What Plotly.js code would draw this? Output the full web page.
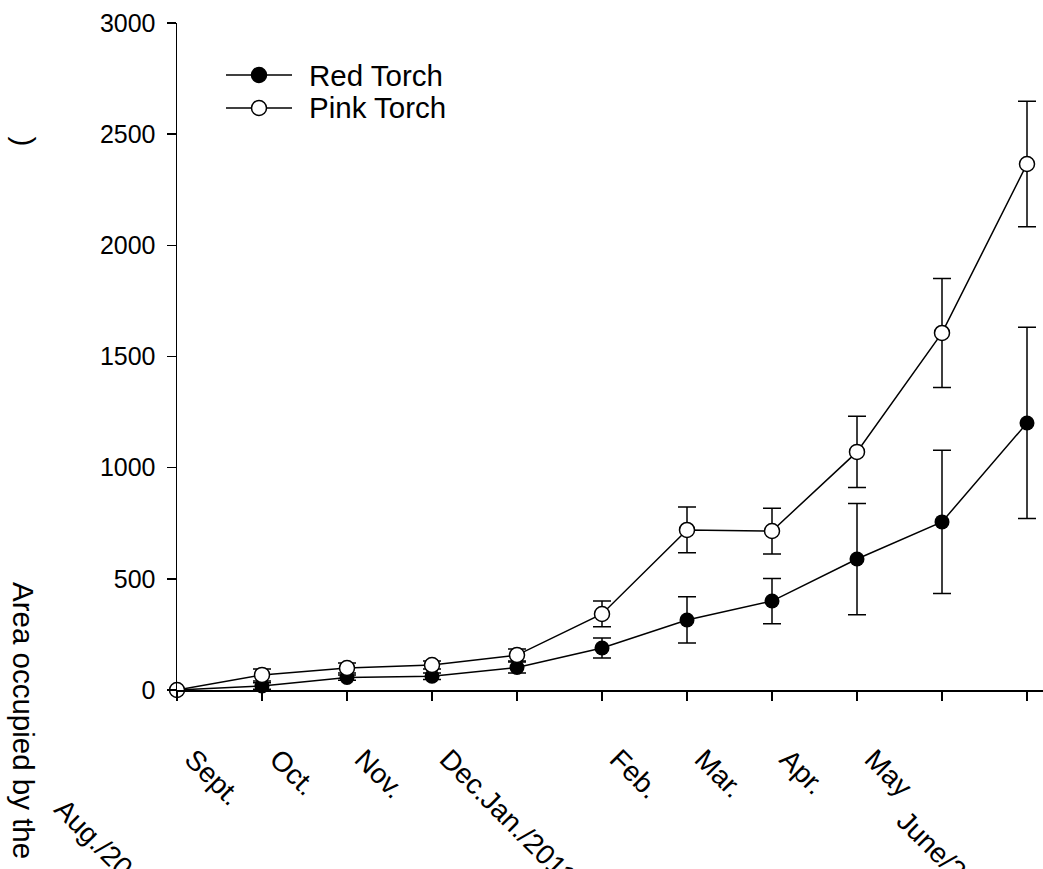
<!DOCTYPE html>
<html>
<head>
<meta charset="utf-8">
<script src="https://cdn.plot.ly/plotly-3.0.1.min.js"></script>
<style>html,body{margin:0;padding:0;background:#fff;}#chart{width:1043px;height:869px;}</style>
</head>
<body>
<div id="chart"></div>
<script>
// ---- data ----
const months = ["Aug./2010","Sept.","Oct.","Nov.","Dec.","Jan./2011","Feb.","Mar.","Apr.","May","June/2011"];
const xIndex = [0,1,2,3,4,5,6,7,8,9,10];
const redTorch = [0, 18, 56, 62, 101, 189, 315, 400, 589, 756, 1201];
const redTorchErr = [0, 15, 12, 15, 25, 45, 104, 102, 250, 322, 430];
const pinkTorch = [0, 68, 99, 112, 157, 342, 720, 715, 1071, 1606, 2366];
const pinkTorchErr = [0, 27, 22, 18, 27, 58, 103, 103, 160, 245, 282];
// tick labels as they appear under the ticks
const tickLabels = ["Sept.","Oct.","Nov.","Dec.Jan./2011","","Feb.","Mar.","Apr.","May","",""];
const seriesNames = ["Red Torch","Pink Torch"];
const yTicks = [0,500,1000,1500,2000,2500,3000];
const yTitle = "Area occupied by the";

const FONT = "Liberation Sans, Arial, Helvetica, sans-serif";

// plot area geometry (pixels)
const L = 177, T = 23, W = 866, H = 667;
const px = x => (x - L) / W;
const py = y => (T + H - y) / H;

const red = {
  x: xIndex, y: redTorch, name: seriesNames[0], type: 'scatter', mode: 'lines+markers',
  line: {color: '#000', width: 1.5},
  marker: {symbol: 'circle', size: 15, color: '#000', line: {width: 0}},
  error_y: {type: 'data', array: redTorchErr, visible: true, color: '#000', thickness: 1.5, width: 9},
  cliponaxis: false, showlegend: false
};
const pink = {
  x: xIndex, y: pinkTorch, name: seriesNames[1], type: 'scatter', mode: 'lines+markers',
  line: {color: '#000', width: 1.5},
  marker: {symbol: 'circle', size: 15, color: '#fff', line: {width: 1.5, color: '#000'}},
  error_y: {type: 'data', array: pinkTorchErr, visible: true, color: '#000', thickness: 1.5, width: 9},
  cliponaxis: false, showlegend: false
};

const legendY = [75, 108];
const shapes = [];
const annotations = [];
legendY.forEach((yy, i) => {
  shapes.push({type: 'line', xref: 'paper', yref: 'paper', x0: px(226), x1: px(292), y0: py(yy), y1: py(yy),
    line: {color: '#000', width: 1.5}});
  shapes.push({type: 'circle', xref: 'paper', yref: 'paper', xsizemode: 'pixel', ysizemode: 'pixel',
    xanchor: px(259), yanchor: py(yy), x0: -7.5, x1: 7.5, y0: -7.5, y1: 7.5,
    fillcolor: i === 0 ? '#000' : '#fff', line: {color: '#000', width: 1.5}});
  annotations.push({xref: 'paper', yref: 'paper', x: px(307), y: py(yy), xanchor: 'left', yanchor: 'middle',
    text: seriesNames[i], showarrow: false, font: {family: FONT, size: 29.5, color: '#000'}});
});

// y-axis title (reads top to bottom)
annotations.push({xref: 'paper', yref: 'paper', x: px(5), y: py(580), xanchor: 'left', yanchor: 'top',
  textangle: 90, text: yTitle, showarrow: false, font: {family: FONT, size: 29.5, color: '#000'}});
annotations.push({xref: 'paper', yref: 'paper', x: px(5), y: py(134), xanchor: 'left', yanchor: 'top',
  textangle: 90, text: ")", showarrow: false, font: {family: FONT, size: 29.5, color: '#000'}});
// stray month labels
annotations.push({xref: 'paper', yref: 'paper', x: px(46), y: py(790), xanchor: 'left', yanchor: 'top',
  textangle: 45, text: months[0], showarrow: false, font: {family: FONT, size: 28, color: '#000'}});
annotations.push({xref: 'paper', yref: 'paper', x: px(888), y: py(802), xanchor: 'left', yanchor: 'top',
  textangle: 45, text: months[10], showarrow: false, font: {family: FONT, size: 28, color: '#000'}});

const layout = {
  width: 1043, height: 869,
  margin: {l: L, r: 1043 - L - W, t: T, b: 869 - T - H, pad: 0},
  paper_bgcolor: '#fff', plot_bgcolor: '#fff',
  showlegend: false,
  font: {family: FONT, size: 25, color: '#000'},
  xaxis: {
    range: [0, W / 85], showgrid: false, zeroline: false,
    showline: true, linecolor: '#000', linewidth: 1.5,
    ticks: 'outside', ticklen: 9, tickwidth: 1.5, tickcolor: '#000',
    tickmode: 'array', tickvals: xIndex, ticktext: tickLabels,
    tickangle: 45, ticklabelstandoff: 31, ticklabelshift: 16,
    tickfont: {family: FONT, size: 28, color: '#000'}
  },
  yaxis: {
    range: [0, 3000], showgrid: false, zeroline: false,
    showline: true, linecolor: '#000', linewidth: 1.5,
    ticks: 'outside', ticklen: 9, tickwidth: 1.5, tickcolor: '#000',
    tickmode: 'array', tickvals: yTicks, ticklabelstandoff: 6,
    tickfont: {family: FONT, size: 25, color: '#000'}
  },
  shapes: shapes,
  annotations: annotations
};

Plotly.newPlot('chart', [red, pink], layout, {displayModeBar: false, staticPlot: true});
</script>
</body>
</html>
